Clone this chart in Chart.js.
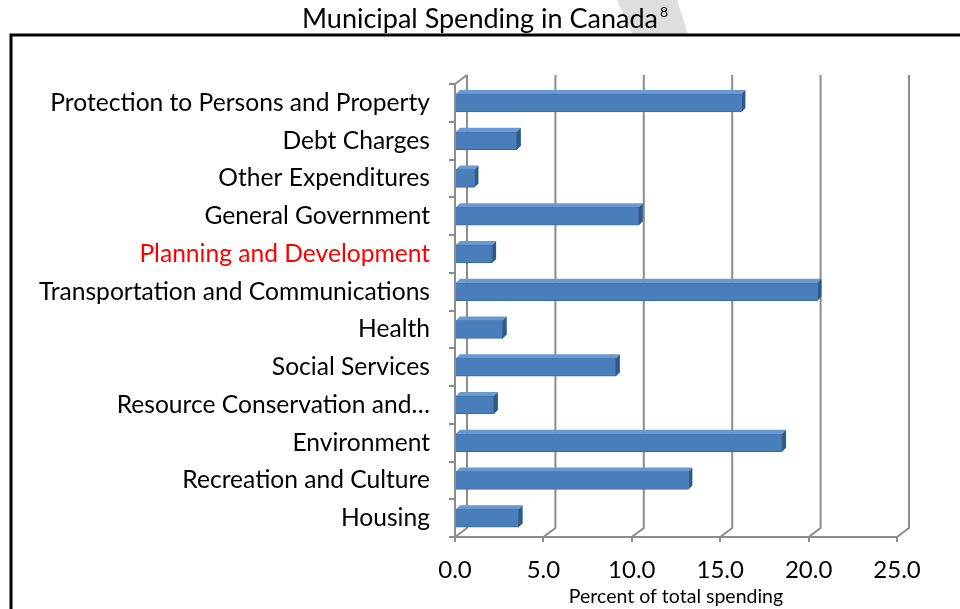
<!DOCTYPE html>
<html>
<head>
<meta charset="utf-8">
<script src="https://cdn.jsdelivr.net/npm/chart.js@4"></script>
<style>
	html, body { margin: 0; padding: 0; background: #fff; }
	#wrap { width: 960px; height: 609px; position: relative; }
</style>
</head>
<body>
<div id="wrap"><canvas id="chart" width="960" height="609"></canvas></div>
<script>
const categories = [
	'Protection to Persons and Property',
	'Debt Charges',
	'Other Expenditures',
	'General Government',
	'Planning and Development',
	'Transportation and Communications',
	'Health',
	'Social Services',
	'Resource Conservation and…',
	'Environment',
	'Recreation and Culture',
	'Housing',
];
const spending = [16.2, 3.5, 1.1, 10.4, 2.1, 20.5, 2.7, 9.1, 2.2, 18.5, 13.2, 3.6];
const xTicks = [0, 5, 10, 15, 20, 25];
const highlighted = 'Planning and Development';

const FONT = 'Lato, "Open Sans", sans-serif';
const DEPTH_X = 12;
const DEPTH_Y = -9;
const GRID_COLOR = '#8c8c8c';

// back wall gridlines and floor diagonals, like the Excel 3D chart
const wallPlugin = {
	id: 'wall',
	beforeDraw(chart) {
		const { ctx } = chart;
		// faint watermark shape behind the title
		ctx.save();
		ctx.fillStyle = '#dedede';
		ctx.beginPath();
		ctx.moveTo(617, 0);
		ctx.lineTo(677, 0);
		ctx.lineTo(688, 34);
		ctx.lineTo(632, 34);
		ctx.closePath();
		ctx.fill();
		ctx.restore();
	},
	beforeDatasetsDraw(chart) {
		const { ctx, chartArea, scales } = chart;
		ctx.save();
		ctx.strokeStyle = GRID_COLOR;
		ctx.lineWidth = 2;
		for (const v of xTicks) {
			const x = scales.x.getPixelForValue(v);
			ctx.beginPath();
			ctx.moveTo(x, chartArea.bottom);
			ctx.lineTo(x + DEPTH_X, chartArea.bottom + DEPTH_Y);
			ctx.lineTo(x + DEPTH_X, chartArea.top + DEPTH_Y);
			ctx.stroke();
		}
		ctx.beginPath();
		ctx.moveTo(chartArea.left, chartArea.top);
		ctx.lineTo(chartArea.left + DEPTH_X, chartArea.top + DEPTH_Y);
		ctx.stroke();
		ctx.restore();
	},
	afterDatasetsDraw(chart) {
		const { ctx } = chart;
		const meta = chart.getDatasetMeta(0);
		ctx.save();
		for (const bar of meta.data) {
			const top = bar.y - bar.height / 2;
			const bottom = bar.y + bar.height / 2;
			const dx = 4, dy = -4;
			// top face
			ctx.fillStyle = '#6a98d0';
			ctx.beginPath();
			ctx.moveTo(bar.base, top);
			ctx.lineTo(bar.base + dx, top + dy);
			ctx.lineTo(bar.x + dx, top + dy);
			ctx.lineTo(bar.x, top);
			ctx.closePath();
			ctx.fill();
			// side face
			ctx.fillStyle = '#2c5a8f';
			ctx.beginPath();
			ctx.moveTo(bar.x, top);
			ctx.lineTo(bar.x + dx, top + dy);
			ctx.lineTo(bar.x + dx, bottom + dy);
			ctx.lineTo(bar.x, bottom);
			ctx.closePath();
			ctx.fill();
		}
		ctx.restore();
	},
	afterDraw(chart) {
		const { ctx } = chart;
		ctx.save();
		// frame
		ctx.strokeStyle = '#000';
		ctx.lineWidth = 3;
		ctx.beginPath();
		ctx.moveTo(11, 609);
		ctx.lineTo(11, 35);
		ctx.lineTo(960, 35);
		ctx.stroke();
		// title with superscript note
		const title = 'Municipal Spending in Canada';
		ctx.fillStyle = '#000';
		ctx.font = '27px ' + FONT;
		ctx.textBaseline = 'alphabetic';
		const w = ctx.measureText(title).width;
		const x0 = 480 - w / 2;
		ctx.fillText(title, x0, 28);
		ctx.font = '14px ' + FONT;
		ctx.fillText('8', x0 + w + 2, 17);
		ctx.restore();
	},
};

new Chart(document.getElementById('chart'), {
	type: 'bar',
	data: {
		labels: categories,
		datasets: [{
			data: spending,
			backgroundColor: '#4a7ebb',
			borderColor: '#3a6aa3',
			borderWidth: 1,
			barThickness: 18,
		}],
	},
	options: {
		indexAxis: 'y',
		responsive: false,
		animation: false,
		layout: { padding: { top: 84, right: 63, left: 0, bottom: 0 } },
		plugins: {
			legend: { display: false },
			tooltip: { enabled: false },
		},
		scales: {
			x: {
				min: 0,
				max: 25,
				afterBuildTicks(scale) {
					scale.ticks = xTicks.map((v) => ({ value: v }));
				},
				afterFit(scale) { scale.height = 72; },
				ticks: {
					color: '#000',
					font: { size: 24, family: FONT },
					padding: 14,
					callback: (v) => Number(v).toFixed(1),
				},
				grid: {
					drawOnChartArea: false,
					drawTicks: true,
					tickLength: 5,
					color: GRID_COLOR,
					lineWidth: 2,
				},
				border: { display: true, color: GRID_COLOR, width: 2 },
				title: {
					display: true,
					text: 'Percent of total spending',
					color: '#000',
					font: { size: 19.5, family: FONT },
					padding: { top: 0, bottom: 1 },
				},
			},
			y: {
				afterFit(scale) { scale.width = 455; },
				ticks: {
					color: (c) => (categories[c.index] === highlighted ? '#ff0000' : '#000'),
					font: { size: 24.6, family: FONT },
					padding: 19,
					autoSkip: false,
				},
				grid: {
					offset: true,
					drawOnChartArea: false,
					drawTicks: true,
					tickLength: 6,
					color: GRID_COLOR,
					lineWidth: 2,
				},
				border: { display: true, color: GRID_COLOR, width: 2 },
			},
		},
	},
	plugins: [wallPlugin],
});
</script>
</body>
</html>
